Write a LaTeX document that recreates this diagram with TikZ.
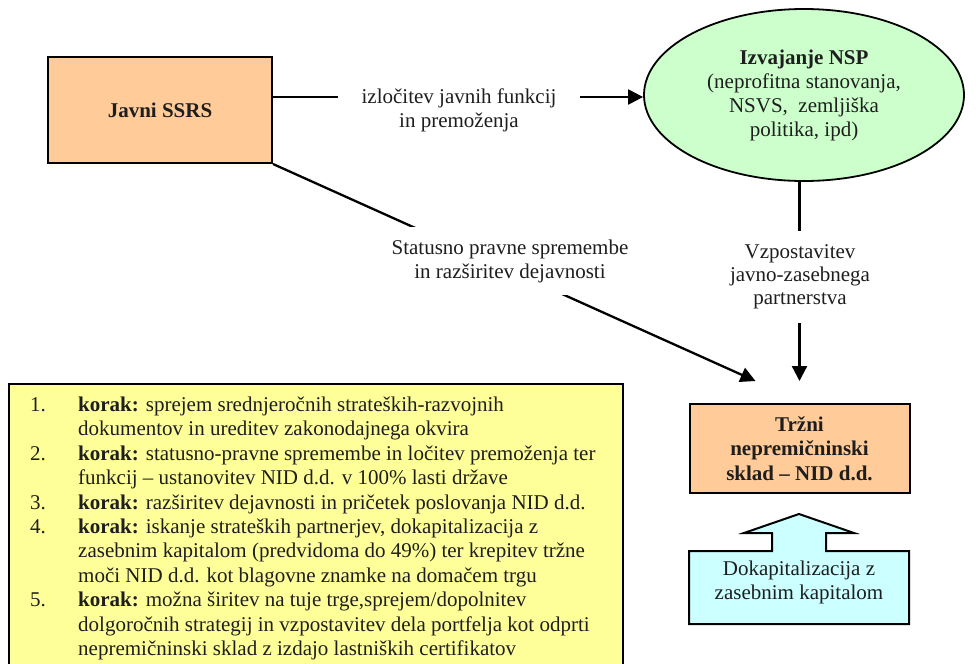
\documentclass[tikz,border=0pt]{standalone}
\usepackage{fontspec}
\setmainfont{Liberation Serif}
\usetikzlibrary{arrows.meta,shapes.geometric}
\definecolor{peach}{HTML}{FFCC99}
\definecolor{nspgreen}{HTML}{CCFFCC}
\definecolor{stepyellow}{HTML}{FFFF99}
\definecolor{capcyan}{HTML}{CCFFFF}
\definecolor{ink}{HTML}{1E1E1E}
\begin{document}
\begin{tikzpicture}[x=1pt,y=-1pt,
  txt/.style={font=\fontsize{21}{24}\selectfont, text=ink},
  boxnode/.style={draw=black, line width=2pt, fill=peach, inner sep=0pt, align=center, text=ink,
    font=\fontsize{21}{24.5}\selectfont\bfseries},
  conn/.style={line width=2.3pt, draw=black},
  arr/.style={conn, -{Triangle[length=15pt,width=15pt]}},
  lab/.style={fill=white, inner sep=0pt, align=center, txt},
  stepline/.style={anchor=base west, inner sep=0pt, txt},
]
\useasboundingbox (0,0) rectangle (978,664);
\clip (0,0) rectangle (978,664);

% main nodes
\node[boxnode, minimum width=224pt, minimum height=106pt] (ssrs) at (160,110) {Javni SSRS};
\node[ellipse, draw=black, line width=1.8pt, fill=nspgreen, minimum width=320pt, minimum height=172pt,
  inner sep=0pt, align=center, txt] (nsp) at (804,95)
  {\textbf{Izvajanje NSP}\\(neprofitna stanovanja,\\NSVS,\ \ zemljiška\\politika, ipd)};
\node[boxnode, minimum width=220pt, minimum height=89pt] (trzni) at (799.5,448.5)
  {Tržni\\nepremičninski\\sklad – NID d.d.};

% arrow tips above the fund box
\coordinate (tipA) at ([xshift=-44pt,yshift=22pt]trzni.north);
\coordinate (tipB) at ([yshift=22pt]trzni.north);

% connectors
\draw[arr] ([yshift=13pt]ssrs.east) -- ([yshift=-2pt]nsp.west);
\draw[arr] (ssrs.south east) -- (tipA);
\draw[arr] (nsp.south -| trzni.north) -- (tipB);

% connector labels (white background breaks the lines)
\node[lab, minimum width=242pt, minimum height=50pt] (lab1) at (459,110)
  {izločitev javnih funkcij\\in premoženja};
\node[lab, minimum width=258pt, minimum height=68pt] (lab2) at (510,261)
  {Statusno pravne spremembe\\in razširitev dejavnosti};
\node[lab, minimum width=160pt, minimum height=92pt, font=\fontsize{21}{23}\selectfont] (lab3) at (800,277)
  {Vzpostavitev\\javno-zasebnega\\partnerstva};

% block arrow: recapitalisation
\draw[line width=2pt, fill=capcyan] (689,624) -- (689,551) -- (772,551) -- (772,533) -- (744,533)
  -- (799,514) -- (854,533) -- (826,533) -- (826,551) -- (909,551) -- (909,624) -- cycle;
\node[txt, align=center, inner sep=0pt] (dokap) at (799,582) {Dokapitalizacija z\\zasebnim kapitalom};

% steps box
\node[draw=black, line width=2.2pt, fill=stepyellow, minimum width=614pt, minimum height=320pt,
  anchor=north west, inner sep=0pt] (steps) at (8,383) {};

\node[stepline] (n1) at (30,411.5) {1.};
\node[stepline] (s1a) at (78,411.5) {\textbf{korak:} sprejem srednjeročnih strateških-razvojnih};
\node[stepline] (s1b) at (78,435.9) {dokumentov in ureditev zakonodajnega okvira};
\node[stepline] (n2) at (30,460.3) {2.};
\node[stepline] (s2a) at (78,460.3) {\textbf{korak:} statusno-pravne spremembe in ločitev premoženja ter};
\node[stepline] (s2b) at (78,484.7) {funkcij – ustanovitev NID d.d. v 100\% lasti države};
\node[stepline] (n3) at (30,509.1) {3.};
\node[stepline] (s3a) at (78,509.1) {\textbf{korak:} razširitev dejavnosti in pričetek poslovanja NID d.d.};
\node[stepline] (n4) at (30,533.5) {4.};
\node[stepline] (s4a) at (78,533.5) {\textbf{korak:} iskanje strateških partnerjev, dokapitalizacija z};
\node[stepline] (s4b) at (78,557.9) {zasebnim kapitalom (predvidoma do 49\%) ter krepitev tržne};
\node[stepline] (s4c) at (78,582.3) {moči NID d.d. kot blagovne znamke na domačem trgu};
\node[stepline] (n5) at (30,606.7) {5.};
\node[stepline] (s5a) at (78,606.7) {\textbf{korak:} možna širitev na tuje trge,sprejem/dopolnitev};
\node[stepline] (s5b) at (78,631.1) {dolgoročnih strategij in vzpostavitev dela portfelja kot odprti};
\node[stepline] (s5c) at (78,655.5) {nepremičninski sklad z izdajo lastniških certifikatov};
\end{tikzpicture}
\end{document}
